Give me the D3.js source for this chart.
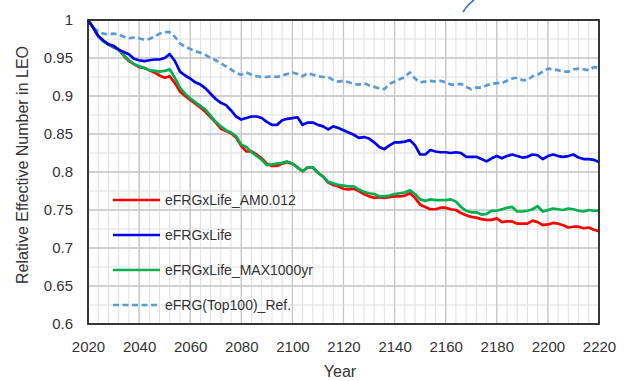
<!DOCTYPE html>
<html>
<head>
<meta charset="utf-8">
<script src="https://cdn.jsdelivr.net/npm/d3@7/dist/d3.min.js"></script>
<style>
  html, body { margin: 0; padding: 0; background: #ffffff; }
  svg { display: block; }
  text { font-family: "Liberation Sans", Arial, sans-serif; fill: #333333; }
</style>
</head>
<body>
<svg id="chart" width="624" height="381"></svg>
<script>
// Simulation years (2-year steps)
const years = d3.range(2020, 2221, 2);

// Relative effective number of objects in LEO for each scenario
const amSeries = [
  1.000, 0.990, 0.979, 0.972, 0.968, 0.964, 0.961, 0.953, 0.946, 0.942,
  0.938, 0.937, 0.934, 0.931, 0.927, 0.924, 0.926, 0.917, 0.906, 0.900,
  0.895, 0.890, 0.885, 0.879, 0.872, 0.865, 0.857, 0.854, 0.851, 0.845,
  0.834, 0.827, 0.827, 0.823, 0.818, 0.811, 0.808, 0.808, 0.811, 0.813,
  0.811, 0.806, 0.801, 0.806, 0.806, 0.799, 0.794, 0.786, 0.783, 0.781,
  0.778, 0.777, 0.778, 0.775, 0.771, 0.768, 0.766, 0.767, 0.766, 0.767,
  0.768, 0.768, 0.769, 0.772, 0.766, 0.757, 0.754, 0.751, 0.751, 0.753,
  0.753, 0.751, 0.750, 0.746, 0.743, 0.741, 0.740, 0.738, 0.737, 0.737,
  0.739, 0.734, 0.735, 0.735, 0.732, 0.732, 0.732, 0.736, 0.734, 0.730,
  0.731, 0.733, 0.732, 0.730, 0.727, 0.728, 0.728, 0.726, 0.727, 0.724,
  0.722
];
const lifeSeries = [
  1.000, 0.990, 0.979, 0.973, 0.968, 0.966, 0.961, 0.958, 0.955, 0.949,
  0.947, 0.946, 0.947, 0.948, 0.948, 0.950, 0.955, 0.946, 0.932, 0.927,
  0.923, 0.918, 0.915, 0.910, 0.903, 0.896, 0.891, 0.888, 0.881, 0.873,
  0.869, 0.871, 0.873, 0.873, 0.871, 0.866, 0.862, 0.862, 0.868, 0.870,
  0.871, 0.872, 0.862, 0.865, 0.865, 0.862, 0.860, 0.856, 0.860, 0.858,
  0.855, 0.852, 0.849, 0.845, 0.846, 0.844, 0.839, 0.833, 0.830, 0.835,
  0.839, 0.839, 0.840, 0.842, 0.835, 0.823, 0.823, 0.829, 0.827, 0.826,
  0.826, 0.825, 0.826, 0.825, 0.820, 0.820, 0.820, 0.817, 0.814, 0.818,
  0.821, 0.818, 0.821, 0.823, 0.821, 0.819, 0.820, 0.823, 0.822, 0.817,
  0.821, 0.823, 0.821, 0.820, 0.821, 0.823, 0.819, 0.817, 0.817, 0.816,
  0.813
];
const maxSeries = [
  1.000, 0.990, 0.979, 0.972, 0.968, 0.964, 0.961, 0.954, 0.947, 0.942,
  0.939, 0.937, 0.934, 0.933, 0.932, 0.933, 0.935, 0.924, 0.911, 0.903,
  0.897, 0.892, 0.887, 0.882, 0.874, 0.866, 0.860, 0.855, 0.852, 0.847,
  0.836, 0.833, 0.826, 0.821, 0.816, 0.809, 0.810, 0.811, 0.812, 0.814,
  0.811, 0.806, 0.801, 0.806, 0.806, 0.799, 0.794, 0.787, 0.785, 0.783,
  0.782, 0.781, 0.781, 0.777, 0.774, 0.772, 0.771, 0.768, 0.768, 0.769,
  0.771, 0.772, 0.773, 0.776, 0.771, 0.764, 0.762, 0.764, 0.763, 0.763,
  0.763, 0.764, 0.761, 0.754, 0.749, 0.747, 0.747, 0.744, 0.745, 0.749,
  0.749, 0.751, 0.753, 0.754, 0.748, 0.748, 0.749, 0.751, 0.755, 0.748,
  0.750, 0.752, 0.751, 0.750, 0.752, 0.751, 0.749, 0.748, 0.750, 0.749,
  0.749
];
const refSeries = [
  1.000, 0.990, 0.985, 0.982, 0.981, 0.982, 0.981, 0.978, 0.976, 0.977,
  0.976, 0.974, 0.975, 0.978, 0.982, 0.984, 0.984, 0.978, 0.969, 0.965,
  0.962, 0.959, 0.957, 0.954, 0.950, 0.947, 0.943, 0.939, 0.935, 0.930,
  0.928, 0.931, 0.928, 0.926, 0.925, 0.925, 0.926, 0.925, 0.927, 0.929,
  0.931, 0.929, 0.926, 0.930, 0.928, 0.926, 0.925, 0.925, 0.921, 0.919,
  0.920, 0.918, 0.916, 0.915, 0.917, 0.914, 0.912, 0.910, 0.909, 0.916,
  0.919, 0.922, 0.925, 0.931, 0.923, 0.918, 0.919, 0.920, 0.919, 0.920,
  0.918, 0.915, 0.915, 0.916, 0.912, 0.909, 0.911, 0.911, 0.914, 0.916,
  0.917, 0.917, 0.920, 0.923, 0.924, 0.921, 0.921, 0.926, 0.928, 0.932,
  0.936, 0.935, 0.934, 0.932, 0.932, 0.935, 0.936, 0.935, 0.934, 0.938,
  0.937
];

const seriesNames = ["eFRGxLife_AM0.012", "eFRGxLife", "eFRGxLife_MAX1000yr", "eFRG(Top100)_Ref."];
const seriesColors = ["#ff0000", "#0000ee", "#00b050", "#5b9bd5"];
const seriesDashes = [null, null, null, "6,3.5"];
// Draw order: reference first, then the two close red/green lines, blue on top
const drawOrder = [3, 0, 2, 1];
const seriesValues = [amSeries, lifeSeries, maxSeries, refSeries];

const xTicks = d3.range(2020, 2221, 20);
const xMinor = d3.range(2020, 2221, 4);
const yTicks = [0.6, 0.65, 0.7, 0.75, 0.8, 0.85, 0.9, 0.95, 1];
const yMinor = d3.range(0, 17).map(i => 0.6 + i * 0.025);

const svg = d3.select("#chart");
const plot = { left: 88, right: 599, top: 20, bottom: 324 };

const x = d3.scaleLinear().domain([2020, 2220]).range([plot.left, plot.right]);
const y = d3.scaleLinear().domain([0.6, 1]).range([plot.bottom, plot.top]);

// Grid: minor lines first, then major lines
const grid = svg.append("g");
grid.selectAll(".vminor").data(xMinor).enter().append("line")
  .attr("x1", d => x(d)).attr("x2", d => x(d))
  .attr("y1", plot.top).attr("y2", plot.bottom)
  .attr("stroke", "#e0e0e0").attr("stroke-width", 1);
grid.selectAll(".hminor").data(yMinor).enter().append("line")
  .attr("x1", plot.left).attr("x2", plot.right)
  .attr("y1", d => y(d)).attr("y2", d => y(d))
  .attr("stroke", "#e0e0e0").attr("stroke-width", 1);
grid.selectAll(".vmajor").data(xTicks).enter().append("line")
  .attr("x1", d => x(d)).attr("x2", d => x(d))
  .attr("y1", plot.top).attr("y2", plot.bottom)
  .attr("stroke", "#c6c6c6").attr("stroke-width", 1.3);
grid.selectAll(".hmajor").data(yTicks).enter().append("line")
  .attr("x1", plot.left).attr("x2", plot.right)
  .attr("y1", d => y(d)).attr("y2", d => y(d))
  .attr("stroke", "#c6c6c6").attr("stroke-width", 1.3);

// Axes (labels only)
const fmtY = d => String(+d.toFixed(2));
const yAxis = svg.append("g")
  .attr("transform", `translate(${plot.left},0)`)
  .call(d3.axisLeft(y).tickValues(yTicks).tickFormat(fmtY).tickSize(0).tickPadding(15));
const xAxis = svg.append("g")
  .attr("transform", `translate(0,${plot.bottom})`)
  .call(d3.axisBottom(x).tickValues(xTicks).tickFormat(d3.format("d")).tickSize(0).tickPadding(17));
[yAxis, xAxis].forEach(a => {
  a.select(".domain").remove();
  a.selectAll("text")
    .style("font-family", "'Liberation Sans', Arial, sans-serif")
    .style("font-size", "15px")
    .attr("fill", "#333333");
});

// Series lines
const line = d3.line()
  .x((d, i) => x(years[i]))
  .y(d => y(d));
const linesG = svg.append("g");
drawOrder.forEach(k => {
  linesG.append("path")
    .datum(seriesValues[k])
    .attr("d", line)
    .attr("fill", "none")
    .attr("stroke", seriesColors[k])
    .attr("stroke-width", 2.7)
    .attr("stroke-linejoin", "round")
    .attr("stroke-dasharray", seriesDashes[k]);
});

// Plot frame
svg.append("rect")
  .attr("x", plot.left).attr("y", plot.top)
  .attr("width", plot.right - plot.left).attr("height", plot.bottom - plot.top)
  .attr("fill", "none").attr("stroke", "#262626").attr("stroke-width", 1.8);

// Legend
const legend = svg.append("g").attr("transform", "translate(113,200)");
seriesNames.forEach((name, i) => {
  const g = legend.append("g").attr("transform", `translate(0,${i * 35})`);
  g.append("line")
    .attr("x1", 0).attr("x2", 47).attr("y1", 0).attr("y2", 0)
    .attr("stroke", seriesColors[i]).attr("stroke-width", 2.7)
    .attr("stroke-dasharray", seriesDashes[i]);
  g.append("text")
    .attr("x", 52).attr("y", 0).attr("dy", "0.35em")
    .style("font-size", "14px")
    .text(name);
});

// Axis titles
svg.append("text")
  .attr("x", 340).attr("y", 377)
  .attr("text-anchor", "middle")
  .style("font-size", "16px")
  .text("Year");
svg.append("text")
  .attr("transform", "translate(28,165) rotate(-90)")
  .attr("text-anchor", "middle")
  .style("font-size", "16px")
  .text("Relative Effective Number in LEO");

// Small blue stroke at the top edge
svg.append("path")
  .attr("d", "M463,12 Q467,5 474,0")
  .attr("fill", "none")
  .attr("stroke", "#2f6fbf")
  .attr("stroke-width", 1.6);
</script>
</body>
</html>
